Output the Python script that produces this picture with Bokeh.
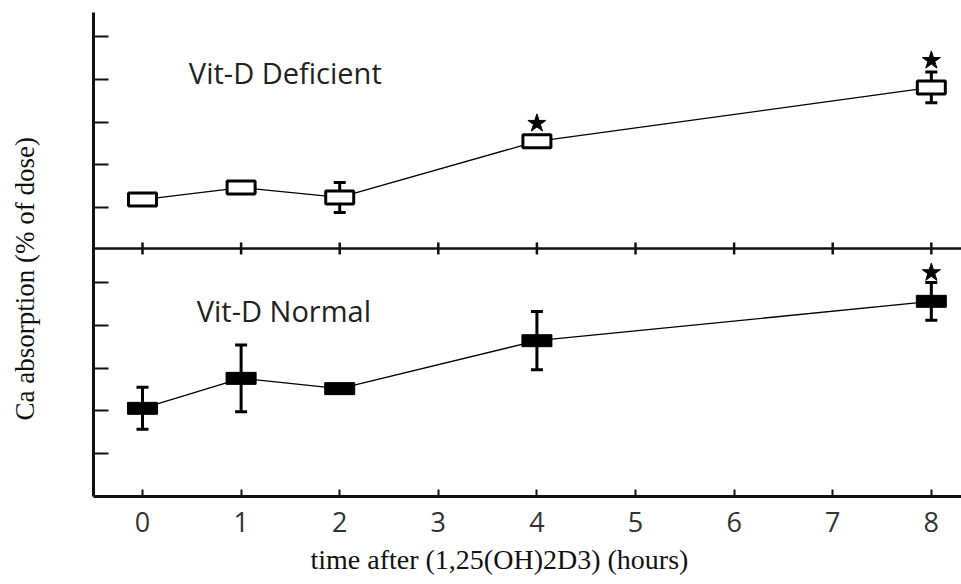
import math
from bokeh.plotting import figure
from bokeh.models import (Range1d, FixedTicker, Whisker, ColumnDataSource, Span,
                          Label, TeeHead, CustomJSTickFormatter, Title, LinearAxis)
from bokeh.embed import file_html
from bokeh.resources import INLINE

# ---- data (arbitrary units) ----
hours = [0, 1, 2, 4, 8]
x_tick_labels = [0, 1, 2, 3, 4, 5, 6, 7, 8]

deficient_mean = [1.19, 1.47, 1.24, 2.55, 3.81]
deficient_err = [0.0, 0.0, 0.35, 0.0, 0.36]
deficient_sig_hours = [4, 8]
deficient_sig_y = [2.97, 4.44]

normal_mean = [2.06, 2.76, 2.52, 3.64, 4.56]
normal_err = [0.49, 0.78, 0.0, 0.68, 0.44]
normal_sig_hours = [8]
normal_sig_y = [5.23]

panel_ticks = [1, 2, 3, 4, 5]

# ---- layout constants ----
TOP_OFFSET = 5.748          # top panel origin in bottom-panel units
SEP_Y = 0.047               # separator line, top-panel units
Y_END = 11.308

p = figure(width=961, height=584, x_range=Range1d(-0.497, 8.306),
           y_range=Range1d(0, Y_END), output_backend="svg", toolbar_location=None,
           min_border_left=93, min_border_right=0, min_border_top=12, min_border_bottom=88)
p.extra_y_ranges = {"top": Range1d(-TOP_OFFSET, Y_END - TOP_OFFSET)}
p.outline_line_color = None
p.grid.visible = False
p.background_fill_color = "white"
p.border_fill_color = "white"

# x axis
xa = p.xaxis[0]
xa.ticker = FixedTicker(ticks=x_tick_labels)
xa.axis_line_width = 3
xa.axis_line_color = "#111111"
xa.major_tick_in = 7
xa.major_tick_out = 0
xa.major_tick_line_width = 2
xa.major_tick_line_color = "#111111"
xa.minor_tick_line_color = None
xa.major_label_text_font = "Open Sans"
xa.major_label_text_font_size = "27px"
xa.major_label_text_color = "#333333"
xa.major_label_standoff = 15

# y axis (ticks for both panels, no numbers)
ya = p.yaxis[0]
ya.ticker = FixedTicker(ticks=panel_ticks + [TOP_OFFSET + t for t in panel_ticks])
ya.formatter = CustomJSTickFormatter(code="return ''")
ya.axis_line_width = 3
ya.axis_line_color = "#111111"
ya.major_tick_in = 15
ya.major_tick_out = 0
ya.major_tick_line_width = 2
ya.major_tick_line_color = "#111111"
ya.minor_tick_line_color = None

# invisible spacer between the y axis and its title
spacer = LinearAxis(ticker=FixedTicker(ticks=[Y_END]),
                    formatter=CustomJSTickFormatter(code="return ''"),
                    axis_line_color=None, major_tick_line_color="white",
                    major_tick_line_alpha=0.01, major_tick_line_width=1,
                    minor_tick_line_color=None, major_tick_in=0, major_tick_out=50,
                    minor_tick_in=0, minor_tick_out=0)
p.add_layout(spacer, "left")

# separator between panels
p.add_layout(Span(location=SEP_Y, dimension="width", y_range_name="top",
                  line_color="#111111", line_width=2.5))
p.scatter(x_tick_labels, [SEP_Y] * len(x_tick_labels), marker="dash", angle=math.pi / 2,
          size=12, line_width=2.5, line_color="#111111", y_range_name="top")

# --- Vit-D Deficient (top) ---
p.line(hours, deficient_mean, line_color="black", line_width=1.3, y_range_name="top")
d_idx = [i for i, e in enumerate(deficient_err) if e > 0]
d_src = ColumnDataSource(dict(
    x=[hours[i] for i in d_idx],
    upper=[deficient_mean[i] + deficient_err[i] for i in d_idx],
    lower=[deficient_mean[i] - deficient_err[i] for i in d_idx]))
p.add_layout(Whisker(source=d_src, base="x", upper="upper", lower="lower",
                     dimension="height", line_width=3, line_color="black",
                     upper_head=TeeHead(size=12, line_width=3),
                     lower_head=TeeHead(size=12, line_width=3),
                     y_range_name="top"))
p.rect(hours, deficient_mean, width=28, height=13, width_units="screen",
       height_units="screen", fill_color="white", line_color="black",
       line_width=3, y_range_name="top")
p.scatter(deficient_sig_hours, deficient_sig_y, marker="star", size=19,
          fill_color="black", line_color="black", y_range_name="top")

# --- Vit-D Normal (bottom) ---
p.line(hours, normal_mean, line_color="black", line_width=1.3)
n_idx = [i for i, e in enumerate(normal_err) if e > 0]
n_src = ColumnDataSource(dict(
    x=[hours[i] for i in n_idx],
    upper=[normal_mean[i] + normal_err[i] for i in n_idx],
    lower=[normal_mean[i] - normal_err[i] for i in n_idx]))
p.add_layout(Whisker(source=n_src, base="x", upper="upper", lower="lower",
                     dimension="height", line_width=3, line_color="black",
                     upper_head=TeeHead(size=12, line_width=3),
                     lower_head=TeeHead(size=12, line_width=3)))
p.rect(hours, normal_mean, width=30, height=12, width_units="screen",
       height_units="screen", fill_color="black", line_color="black", line_width=1)
p.scatter(normal_sig_hours, normal_sig_y, marker="star", size=19,
          fill_color="black", line_color="black")

# panel labels
p.add_layout(Label(x=0.47, y=4.16, text="Vit-D Deficient", y_range_name="top",
                   text_font="Open Sans", text_font_size="29px", text_color="#222222",
                   text_baseline="alphabetic"))
p.add_layout(Label(x=0.55, y=4.35, text="Vit-D Normal",
                   text_font="Open Sans", text_font_size="29px", text_color="#222222",
                   text_baseline="alphabetic"))

# axis titles
p.add_layout(Title(text="Ca absorption (% of dose)", align="left", offset=76,
                   vertical_align="top", standoff=4,
                   text_font="Liberation Serif", text_font_size="27px",
                   text_font_style="normal", text_color="#111111"), "left")
p.add_layout(Title(text="time after (1,25(OH)2D3) (hours)", align="left", offset=217,
                   vertical_align="bottom", standoff=15,
                   text_font="Liberation Serif", text_font_size="28px",
                   text_font_style="normal", text_color="#111111"), "below")

open("out.html", "w").write(file_html(p, INLINE))
